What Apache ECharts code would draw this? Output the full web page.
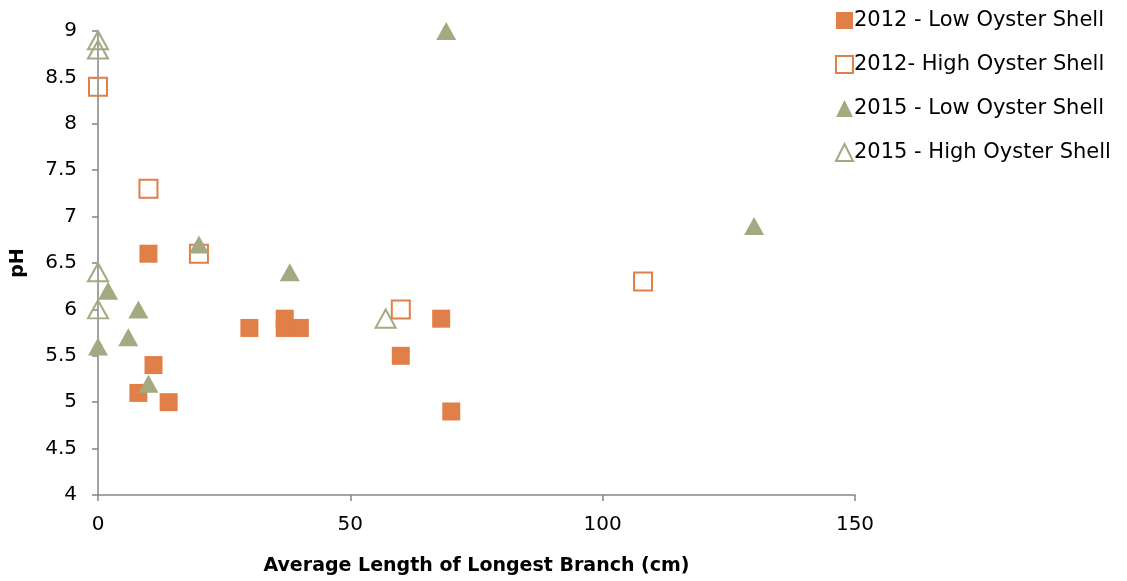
<!DOCTYPE html>
<html>
<head>
<meta charset="utf-8">
<script src="https://cdn.jsdelivr.net/npm/echarts@6/dist/echarts.min.js"></script>
<style>html,body{margin:0;padding:0;background:#fff}#c{width:1127px;height:581px}</style>
</head>
<body>
<div id="c"></div>
<script>
const seriesNames = ['2012 - Low Oyster Shell', '2012- High Oyster Shell', '2015 - Low Oyster Shell', '2015 - High Oyster Shell'];
const low2012 = [[10,6.6],[8,5.1],[11,5.4],[14,5.0],[30,5.8],[37,5.9],[37,5.8],[40,5.8],[68,5.9],[60,5.5],[70,4.9]];
const high2012 = [[0,8.4],[10,7.3],[20,6.6],[60,6.0],[108,6.3]];
const low2015 = [[69,9.0],[130,6.9],[20,6.7],[38,6.4],[2,6.2],[8,6.0],[6,5.7],[0,5.6],[10,5.2]];
const high2015 = [[0,8.9],[0,8.8],[0,6.4],[0,6.0],[57,5.9]];
const xTicks = [0, 50, 100, 150];
const yTicks = [4, 4.5, 5, 5.5, 6, 6.5, 7, 7.5, 8, 8.5, 9];

const ORANGE = '#E07F48';
const GREEN = '#A3A980';
const FONT = 'DejaVu Sans';

const chart = echarts.init(document.getElementById('c'));
chart.setOption({
  animation: false,
  textStyle: { fontFamily: FONT },
  grid: { left: 98, right: 272, top: 31, bottom: 83, containLabel: false },
  legend: {
    orient: 'vertical', left: 830, top: 5, itemGap: 23, itemWidth: 17, itemHeight: 17,
    textStyle: { fontSize: 21, color: '#000', fontFamily: FONT, padding: [0,0,0,-4] },
    data: seriesNames
  },
  xAxis: {
    type: 'value', min: xTicks[0], max: xTicks[xTicks.length-1], interval: 50,
    name: 'Average Length of Longest Branch (cm)', nameLocation: 'middle', nameGap: 62,
    nameTextStyle: { fontSize: 19, fontWeight: 'bold', color: '#000', fontFamily: FONT },
    axisLine: { onZero: false, lineStyle: { color: '#868686', width: 1.5 } },
    axisTick: { show: true, length: 6, lineStyle: { color: '#868686', width: 1.5 } },
    axisLabel: { fontSize: 20, color: '#000', margin: 20 },
    splitLine: { show: false }
  },
  yAxis: {
    type: 'value', min: yTicks[0], max: yTicks[yTicks.length-1], interval: 0.5,
    name: 'pH', nameLocation: 'middle', nameGap: 70, nameRotate: 90,
    nameTextStyle: { fontSize: 19, fontWeight: 'bold', color: '#000', fontFamily: FONT },
    axisLine: { show: true, onZero: false, lineStyle: { color: '#868686', width: 1.5 } },
    axisTick: { show: true, length: 6, lineStyle: { color: '#868686', width: 1.5 } },
    axisLabel: { fontSize: 20, color: '#000', margin: 21 },
    splitLine: { show: false }
  },
  series: [
    { name: seriesNames[0], type: 'scatter', data: low2012, symbol: 'rect', symbolSize: 18,
      itemStyle: { color: ORANGE, opacity: 1 } },
    { name: seriesNames[1], type: 'scatter', data: high2012, symbol: 'rect', symbolSize: 18,
      itemStyle: { color: 'rgba(255,255,255,0)', borderColor: ORANGE, borderWidth: 2, opacity: 1 } },
    { name: seriesNames[2], type: 'scatter', data: low2015, symbol: 'triangle', symbolSize: [20, 18],
      itemStyle: { color: GREEN, opacity: 1 } },
    { name: seriesNames[3], type: 'scatter', data: high2015, symbol: 'triangle', symbolSize: [20, 18],
      itemStyle: { color: 'rgba(255,255,255,0)', borderColor: GREEN, borderWidth: 2, opacity: 1 } }
  ]
});
</script>
</body>
</html>
